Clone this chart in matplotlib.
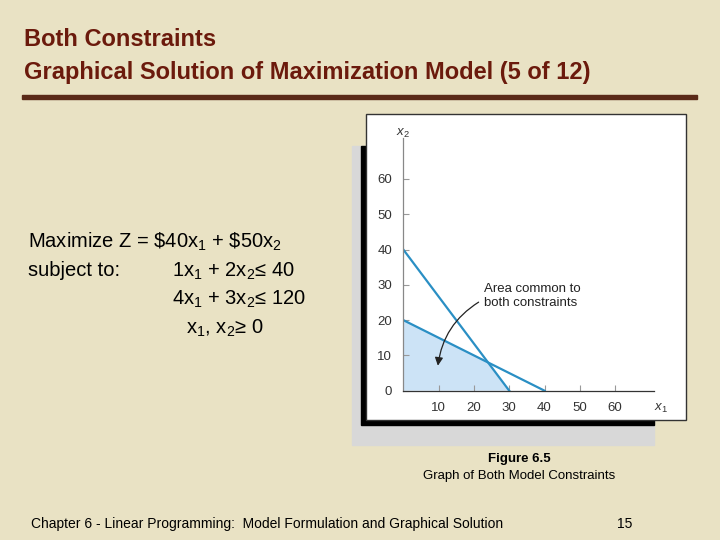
import numpy as np
import matplotlib.pyplot as plt
from matplotlib.patches import Rectangle

plt.rcParams['font.family'] = 'Liberation Sans'
plt.rcParams['mathtext.fontset'] = 'custom'
plt.rcParams['mathtext.rm'] = 'Liberation Sans'
plt.rcParams['mathtext.it'] = 'Liberation Sans:italic'

# constraint lines: intercepts on x1 / x2 axes
c1_x = [0, 40]; c1_y = [20, 0]     # x1 + 2x2 <= 40
c2_x = [0, 30]; c2_y = [40, 0]     # 4x1 + 3x2 <= 120
feas_x = [0, 0, 24, 30]; feas_y = [0, 20, 8, 0]
ticks = [10, 20, 30, 40, 50, 60]
yticks = [0, 10, 20, 30, 40, 50, 60]

W, H = 720, 540
fig = plt.figure(figsize=(7.2, 5.4), dpi=100)
fig.patch.set_facecolor('#E9E2C4')

def box(x0, y0, x1, y1, **kw):
    fig.patches.append(Rectangle((x0 / W, 1 - y1 / H), (x1 - x0) / W, (y1 - y0) / H,
                                 transform=fig.transFigure, **kw))

# title
fig.text(24 / W, 1 - 40 / H, 'Both Constraints', fontsize=17, fontweight='bold',
         color='#6B1A0C', va='center')
fig.text(24 / W, 1 - 73 / H, 'Graphical Solution of Maximization Model (5 of 12)',
         fontsize=17, fontweight='bold', color='#6B1A0C', va='center')
box(22, 95, 697, 99, color='#5A2A18')

# figure panel
box(352, 146, 654, 445, color='#D8D8D8', zorder=0)
box(361, 146, 654, 425, color='black', zorder=1)
box(366, 114, 686, 420, facecolor='white', edgecolor='#333333', lw=1, zorder=2)

ax = fig.add_axes([403.3 / W, 1 - 390.7 / H, (654 - 403.3) / W, (390.7 - 138) / H], zorder=3)
ax.set_facecolor('none')
ax.set_xlim(0, 71); ax.set_ylim(0, 71.6)
for s in ['top', 'right']:
    ax.spines[s].set_visible(False)
for s in ['left', 'bottom']:
    ax.spines[s].set_color('#888888'); ax.spines[s].set_linewidth(0.9)
ax.spines['bottom'].set_color('#333333')
ax.set_xticks(ticks); ax.set_yticks(yticks)
ax.tick_params(direction='in', length=4, colors='#999999', labelcolor='#333333',
               labelsize=9.5, pad=8)
ax.fill(feas_x, feas_y, color='#CCE3F6', lw=0)
ax.plot(c1_x, c1_y, color='#2A8FC4', lw=1.6)
ax.plot(c2_x, c2_y, color='#2A8FC4', lw=1.6)
ax.text(71, -5, 'x$_1$', fontsize=9.5, style='italic', color='#333333', va='center')
ax.text(-2, 71, 'x$_2$', fontsize=9.5, style='italic', color='#333333', va='bottom')
ax.text(22.8, 30.6, 'Area common to\nboth constraints', fontsize=9.5, color='#222222',
        va='top', linespacing=1.2)
ax.annotate('', xy=(9.7, 6.3), xytext=(22, 25.5),
            arrowprops=dict(arrowstyle='-|>', color='#222222', lw=0.9,
                            connectionstyle='arc3,rad=0.25', mutation_scale=12))

# model text
fs = 14.5
fig.text(28 / W, 1 - 242 / H, 'Maximize Z = \\$40x$_1$ + \\$50x$_2$', fontsize=fs, va='center')
fig.text(28 / W, 1 - 271 / H, 'subject to:', fontsize=fs, va='center')
fig.text(172 / W, 1 - 271 / H, '1x$_1$ + 2x$_2$\u2264 40', fontsize=fs, va='center')
fig.text(172 / W, 1 - 299 / H, '4x$_1$ + 3x$_2$\u2264 120', fontsize=fs, va='center')
fig.text(186 / W, 1 - 328 / H, 'x$_1$, x$_2$\u2265 0', fontsize=fs, va='center')

# caption and footer
fig.text(519 / W, 1 - 459 / H, 'Figure 6.5', fontsize=9.5, fontweight='bold', ha='center', va='center')
fig.text(519 / W, 1 - 476 / H, 'Graph of Both Model Constraints', fontsize=9.5, ha='center', va='center')
fig.text(31 / W, 1 - 524 / H, 'Chapter 6 - Linear Programming:  Model Formulation and Graphical Solution',
         fontsize=10, va='center')
fig.text(617 / W, 1 - 524 / H, '15', fontsize=10, va='center')

fig.savefig('out.png', dpi=100, facecolor=fig.get_facecolor())
